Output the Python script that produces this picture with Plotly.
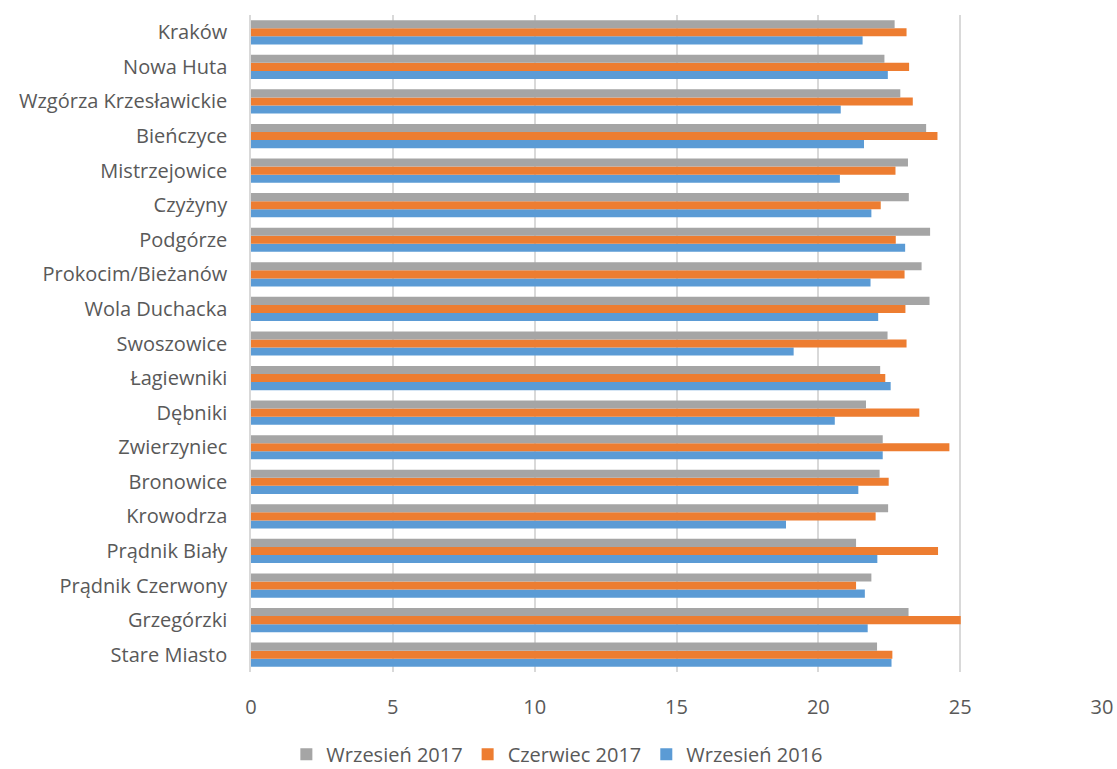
import plotly.graph_objects as go

categories = ["Stare Miasto", "Grzegórzki", "Prądnik Czerwony", "Prądnik Biały", "Krowodrza",
              "Bronowice", "Zwierzyniec", "Dębniki", "Łagiewniki", "Swoszowice",
              "Wola Duchacka", "Prokocim/Bieżanów", "Podgórze", "Czyżyny", "Mistrzejowice",
              "Bieńczyce", "Wzgórza Krzesławickie", "Nowa Huta", "Kraków"]

wrz2017 = [22.07, 23.18, 21.87, 21.33, 22.46, 22.16, 22.27, 21.68, 22.18, 22.44,
           23.92, 23.64, 23.94, 23.19, 23.16, 23.80, 22.89, 22.33, 22.69]
cze2017 = [22.61, 25.02, 21.33, 24.22, 22.02, 22.48, 24.62, 23.56, 22.36, 23.11,
           23.07, 23.04, 22.73, 22.20, 22.72, 24.20, 23.33, 23.20, 23.11]
wrz2016 = [22.58, 21.74, 21.64, 22.08, 18.86, 21.41, 22.27, 20.58, 22.55, 19.13,
           22.11, 21.84, 23.06, 21.87, 20.76, 21.61, 20.79, 22.45, 21.56]

x_ticks = [0, 5, 10, 15, 20, 25, 30]

FONT = "Open Sans"
TXT = "#595959"

fig = go.Figure()
for name, vals, col in [("Wrzesień 2016", wrz2016, "#5B9BD5"),
                        ("Czerwiec 2017", cze2017, "#ED7D31"),
                        ("Wrzesień 2017", wrz2017, "#A5A5A5")]:
    fig.add_trace(go.Bar(y=categories, x=vals, name=name, orientation="h",
                         marker=dict(color=col, line=dict(width=0))))

fig.update_layout(
    width=1117, height=769,
    margin=dict(l=251, r=15, t=15, b=97, autoexpand=False),
    barmode="group", bargap=0.3, bargroupgap=0,
    plot_bgcolor="white", paper_bgcolor="white",
    font=dict(family=FONT, size=20, color=TXT),
    legend=dict(orientation="h", x=0.36, xanchor="center", y=-0.125, yanchor="middle",
                traceorder="reversed", font=dict(size=20, color=TXT),
                itemwidth=30, tracegroupgap=0),
    xaxis=dict(range=[0, 30], tickvals=x_ticks, showgrid=True, gridcolor="#D9D9D9",
               gridwidth=1.5, zeroline=False, showline=False, ticklabelstandoff=21,
               automargin=False),
    yaxis=dict(type="category", categoryorder="array", categoryarray=categories,
               showline=True, linecolor="#D9D9D9", linewidth=1.5, showgrid=False,
               ticklabelstandoff=18, automargin=False),
)
fig.write_html("out.html", config={"displayModeBar": False})

with open("out.html", encoding="utf-8") as f:
    html = f.read()
html = html.replace("<head>", "<head><style>html,body{margin:0;padding:0;overflow:hidden}</style>", 1)
with open("out.html", "w", encoding="utf-8") as f:
    f.write(html)
